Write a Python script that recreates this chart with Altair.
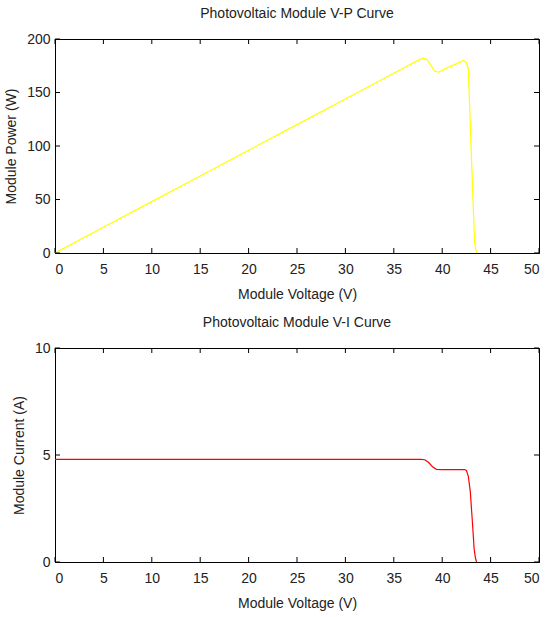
import altair as alt
import pandas as pd

# V-P curve
vp_v = [0, 5, 10, 15, 20, 25, 30, 35, 37.5, 38.0, 38.4, 38.8, 39.2, 39.6, 40.5, 41.5, 42.2, 42.5, 42.7, 43.0, 43.2, 43.35, 43.45, 43.55]
vp_p = [0, 24, 48, 72, 96, 120, 144, 168, 180, 182, 181, 176, 170, 169, 173, 177, 180, 178, 172, 95, 45, 10, 4, 0]

# V-I curve
vi_v = [0, 10, 20, 30, 37.8, 38.2, 38.6, 39.0, 39.4, 40, 41, 42.3, 42.5, 42.7, 42.9, 43.1, 43.3, 43.45, 43.55]
vi_i = [4.8, 4.8, 4.8, 4.8, 4.8, 4.78, 4.65, 4.45, 4.33, 4.32, 4.32, 4.32, 4.28, 4.0, 3.3, 2.0, 0.6, 0.15, 0]

x_ticks = [0, 5, 10, 15, 20, 25, 30, 35, 40, 45, 50]
p_ticks = [0, 50, 100, 150, 200]
i_ticks = [0, 5, 10]

W, H = 484, 214
TL = 5
FONT = "Liberation Sans"

xscale = alt.Scale(domain=[0, 50], nice=False, zero=False)


def panel(df, ycol, ytitle, ydomain, yticks, color, title):
    yscale = alt.Scale(domain=ydomain, nice=False, zero=False)
    xax = alt.Axis(values=x_ticks, ticks=False, grid=False, labelPadding=9,
                   title="Module Voltage (V)", titlePadding=11, domainColor="black")
    yax = alt.Axis(values=yticks, ticks=False, grid=False, labelPadding=5,
                   title=ytitle, titlePadding=8, domainColor="black")
    line = alt.Chart(df).mark_line(color=color, strokeWidth=1.2, clip=True).encode(
        x=alt.X("v:Q", scale=xscale, axis=xax),
        y=alt.Y(f"{ycol}:Q", scale=yscale, axis=yax),
    )
    xt = pd.DataFrame({"t": x_ticks})
    yt = pd.DataFrame({"t": yticks})
    xb = alt.Chart(xt).mark_rule(color="black", strokeWidth=1).encode(
        x=alt.X("t:Q", scale=xscale, axis=xax), y=alt.value(H), y2=alt.value(H - TL))
    xtp = alt.Chart(xt).mark_rule(color="black", strokeWidth=1).encode(
        x=alt.X("t:Q", scale=xscale, axis=xax), y=alt.value(0), y2=alt.value(TL))
    yl = alt.Chart(yt).mark_rule(color="black", strokeWidth=1).encode(
        y=alt.Y("t:Q", scale=yscale, axis=yax), x=alt.value(0), x2=alt.value(TL))
    yr = alt.Chart(yt).mark_rule(color="black", strokeWidth=1).encode(
        y=alt.Y("t:Q", scale=yscale, axis=yax), x=alt.value(W), x2=alt.value(W - TL))
    return alt.layer(line, xb, xtp, yl, yr).properties(
        width=W, height=H,
        title=alt.TitleParams(title, fontSize=14, font=FONT, fontWeight="normal",
                              color="#222222", offset=11),
    )


top = panel(pd.DataFrame({"v": vp_v, "p": vp_p}), "p", "Module Power (W)", [0, 200],
            p_ticks, "#FFFF00", "Photovoltaic Module V-P Curve")
bot = panel(pd.DataFrame({"v": vi_v, "i": vi_i}), "i", "Module Current (A)", [0, 10],
            i_ticks, "#FF0000", "Photovoltaic Module V-I Curve")

chart = alt.vconcat(top, bot, spacing=13).properties(
    padding={"left": 4, "top": 6, "right": 8, "bottom": 4}, background="white"
).configure_view(stroke="black", strokeWidth=1).configure_axis(
    labelFont=FONT, titleFont=FONT, labelFontSize=14, titleFontSize=14,
    labelColor="#222222", titleColor="#222222", titleFontWeight="normal",
    domainWidth=1,
)

chart.save("out.html", embed_options={"renderer": "svg", "actions": False})
